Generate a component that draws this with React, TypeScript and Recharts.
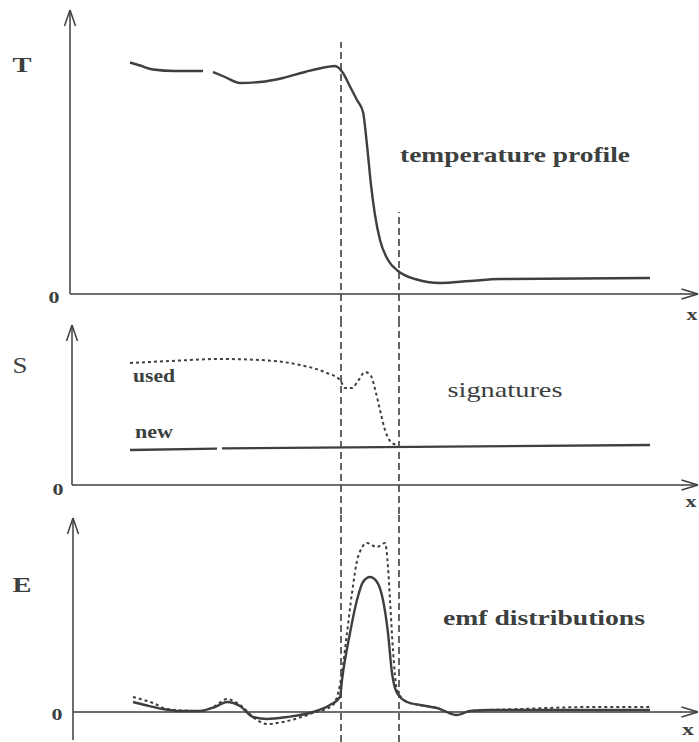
import React from "react";
import { LineChart, Line, XAxis, YAxis, ReferenceLine, ReferenceDot } from "recharts";

const INK = "#3c403e";
const FONT = '"Liberation Serif", "Times New Roman", Times, serif';

// shared x scale (arbitrary position units along the sample)
const X_DOMAIN: [number, number] = [-14, 125.8];
const AXIS_END = 125.6;
const EDGE_A = 54.2;
const EDGE_B = 65.8;

// temperature profile, drawn in two pieces like the original sketch
const tempX1 = [12, 14, 16.6, 21, 26.6];
const tempT1 = [92.6, 91.4, 89.8, 89.2, 89.2];
const tempX2 = [28.6, 31, 34, 38, 42.6, 47, 51.4, 53, 54.6, 56, 57.4, 58.6, 59.4, 60.2, 61, 62, 63.6, 65.6, 69, 74, 80, 86, 116];
const tempT2 = [88.8, 86.8, 84.4, 84.8, 86.4, 88.8, 90.8, 91.2, 88.4, 83, 77.6, 72.8, 59.6, 43.6, 31.6, 21.6, 13.6, 9.2, 6, 4.4, 5.2, 6, 6.4];

// signatures
const usedX = [12, 20, 30, 38, 46, 51.4, 54, 55, 56.4, 57.6, 59, 60.2, 61.2, 62, 63, 64.4, 65.4];
const usedS = [61, 62, 63, 62.5, 60, 56, 52.5, 48.5, 48.5, 52, 56.5, 54.5, 46, 37.5, 27.5, 21, 20];
const newX1 = [12, 29.4];
const newS1 = [17.5, 18.2];
const newX2 = [30.4, 116];
const newS2 = [18.3, 20];

// emf distributions
const emfX = [12.6, 15, 18.6, 22, 26, 29, 31.4, 34, 36.6, 39.4, 43.4, 48.6, 52, 54, 54.4, 56, 57.4, 58.6, 60, 61.4, 62.6, 63.6, 64.4, 65.4, 67.4, 70, 73.4, 77.4, 80, 84, 100, 116];
const emfE = [5, 3.5, 1.5, 0.5, 0.5, 2.5, 5, 3, -2.5, -3.5, -2.5, 0, 3.5, 7.5, 16, 39.5, 56, 65, 67.5, 65, 56, 39.5, 19.5, 9.5, 5, 3.5, 2, -1.5, 0.5, 1, 1, 1];
const emfUsedX = [12.6, 16.6, 19.4, 26, 29, 31.4, 34, 37.4, 39.4, 42.6, 48.6, 52.6, 54.4, 55.4, 56.4, 57.6, 59.4, 61.4, 63, 63.6, 64, 64.6, 65.4, 67.4, 70, 73.4, 77.4, 80, 90, 105, 116];
const emfUsedE = [7.5, 4.5, 1.5, 0.5, 3, 6.5, 3.5, -4, -6, -5, -0.5, 3.5, 19.5, 39.5, 59.5, 77.5, 84.5, 82.5, 84.5, 72.5, 56, 31, 11, 5, 3.5, 2, -1.5, 0.5, 1.5, 2.5, 2.5];

const pts = (xs: number[], ys: number[]) => xs.map((x, i) => ({ x, y: ys[i] }));

function label(key: string, x: number, y: number, text: string, size: number, w: number, bold = true) {
  return (
    <ReferenceDot
      key={key} x={x} y={y} r={0} ifOverflow="visible"
      shape={(p: any) => (
        <text x={p.cx} y={p.cy} textAnchor="middle" fill={INK} textLength={w} lengthAdjust="spacingAndGlyphs"
          style={{ fontFamily: FONT, fontSize: size, fontWeight: bold ? 700 : 400 }}>
          {text}
        </text>
      )}
    />
  );
}

function seg(key: string, a: [number, number], b: [number, number], extra: any = {}) {
  return (
    <ReferenceLine key={key} segment={[{ x: a[0], y: a[1] }, { x: b[0], y: b[1] }]}
      stroke={INK} strokeWidth={1.5} ifOverflow="visible" {...extra} />
  );
}

// axis pair with open arrowheads
function axes(x0: number, yTip: number, yLow: number, armY: number, armX: number) {
  return [
    seg("ya", [x0, yLow], [x0, yTip]),
    seg("yl", [x0, yTip], [x0 - 1.1, yTip - armY]),
    seg("yr", [x0, yTip], [x0 + 1.1, yTip - armY]),
    seg("xa", [x0, 0], [AXIS_END, 0]),
    seg("xu", [AXIS_END, 0], [AXIS_END - 3.3, armX]),
    seg("xd", [AXIS_END, 0], [AXIS_END - 3.3, -armX]),
  ];
}

function edges(topA: number, topB: number, bottom: number) {
  const dash = { strokeDasharray: "7 4", strokeWidth: 1.6 };
  return [
    seg("ea", [EDGE_A, bottom], [EDGE_A, topA], dash),
    seg("eb", [EDGE_B, bottom], [EDGE_B, topB], dash),
  ];
}

function curve(key: string, data: any[], width: number, dashed = false, type: any = "monotone") {
  return (
    <Line key={key} data={data} dataKey="y" type={type} stroke={INK} strokeWidth={width}
      strokeDasharray={dashed ? "3 3" : undefined} dot={false} activeDot={false} isAnimationActive={false} />
  );
}

function Panel({ top, height, yDomain, children }: any) {
  return (
    <div style={{ position: "absolute", left: 0, top }}>
      <LineChart width={699} height={height} margin={{ top: 0, right: 0, bottom: 0, left: 0 }}>
        <XAxis type="number" dataKey="x" domain={X_DOMAIN} allowDataOverflow hide />
        <YAxis type="number" domain={yDomain} allowDataOverflow hide />
        {children}
      </LineChart>
    </div>
  );
}

export default function App() {
  return (
    <div style={{ position: "absolute", left: 0, top: 0, width: 699, height: 742, background: "#fff" }}>
      <Panel top={0} height={323} yDomain={[-11.6, 117.6]}>
        {axes(0, 113.6, 0, 6.4, 2)}
        {edges(100.8, 32.8, -11.6)}
        {curve("t1", pts(tempX1, tempT1), 2.4)}
        {curve("t2", pts(tempX2, tempT2), 2.4)}
        {label("T", -9.6, 88.8, "T", 21, 19)}
        {label("0", -3.2, -3.6, "0", 17, 11)}
        {label("x", 124.4, -10.4, "x", 17, 11)}
        {label("tp", 89, 52.8, "temperature  profile", 22, 230)}
      </Panel>
      <Panel top={323} height={191} yDomain={[-14.5, 81]}>
        {axes(0.4, 80, 0, 8, 2.5)}
        {edges(81, 81, -14.5)}
        {curve("n1", pts(newX1, newS1), 2.4, false, "linear")}
        {curve("n2", pts(newX2, newS2), 2.4, false, "linear")}
        {curve("u", pts(usedX, usedS), 2, true)}
        {label("S", -10, 56, "S", 24, 15, false)}
        {label("used", 16.8, 51.5, "used", 18, 42)}
        {label("new", 16.8, 23.5, "new", 18, 38)}
        {label("sig", 87, 44, "signatures", 22, 115, false)}
        {label("0", -2.4, -5, "0", 17, 11)}
        {label("x", 124.2, -11, "x", 17, 11)}
      </Panel>
      <Panel top={514} height={228} yDomain={[-15, 99]}>
        {axes(0.6, 97, -14, 8, 2.5)}
        {edges(99, 99, -15)}
        {curve("eu", pts(emfUsedX, emfUsedE), 2, true)}
        {curve("en", pts(emfX, emfE), 2.4)}
        {label("E", -9.6, 60, "E", 21, 19)}
        {label("0", -2.6, -4, "0", 17, 11)}
        {label("x", 123.6, -11.5, "x", 17, 12)}
        {label("emf", 94.8, 43.5, "emf  distributions", 22, 202)}
      </Panel>
    </div>
  );
}
